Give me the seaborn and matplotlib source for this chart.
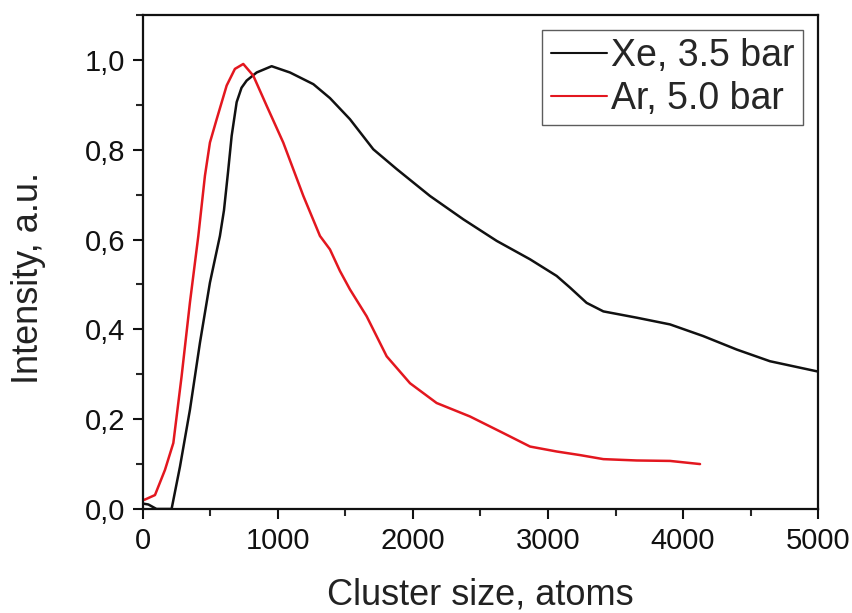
import matplotlib
matplotlib.use("Agg")
import matplotlib.pyplot as plt
from matplotlib.ticker import FuncFormatter, MultipleLocator
import numpy as np
import pandas as pd
import seaborn as sns

# Cluster size distributions (atoms vs. normalised intensity)
xe_size = [0, 40, 100, 212, 274, 348, 422, 496, 570, 600, 630, 657, 694, 730,
           768, 842, 953, 1089, 1262, 1385, 1533, 1706, 1879, 2126, 2373, 2620,
           2867, 3064, 3163, 3286, 3410, 3657, 3904, 4150, 4398, 4644, 5000]
xe_int = [0.012, 0.010, 0.0, 0.0, 0.094, 0.221, 0.370, 0.504, 0.608, 0.665,
          0.750, 0.831, 0.906, 0.938, 0.954, 0.972, 0.986, 0.972, 0.946, 0.915,
          0.868, 0.801, 0.757, 0.697, 0.645, 0.597, 0.556, 0.519, 0.493, 0.459,
          0.440, 0.426, 0.411, 0.385, 0.355, 0.329, 0.306]

ar_size = [0, 15, 89, 163, 225, 286, 348, 410, 459, 496, 546, 620, 681, 743,
           817, 916, 1039, 1188, 1311, 1385, 1459, 1533, 1657, 1805, 1978, 2175,
           2422, 2669, 2867, 3064, 3237, 3410, 3657, 3904, 4126]
ar_int = [0.020, 0.021, 0.031, 0.087, 0.147, 0.295, 0.460, 0.608, 0.742, 0.816,
          0.868, 0.943, 0.980, 0.991, 0.965, 0.898, 0.816, 0.697, 0.608, 0.578,
          0.530, 0.489, 0.429, 0.340, 0.280, 0.236, 0.206, 0.169, 0.139, 0.128,
          0.120, 0.111, 0.108, 0.107, 0.100]

labels = ["Xe, 3.5 bar", "Ar, 5.0 bar"]
colors = ["#111111", "#e3171f"]

df = pd.concat([
    pd.DataFrame({"size": xe_size, "intensity": xe_int, "gas": labels[0]}),
    pd.DataFrame({"size": ar_size, "intensity": ar_int, "gas": labels[1]}),
])

sns.set_style("ticks")
plt.rcParams["font.family"] = ["Liberation Sans", "DejaVu Sans"]

fig = plt.figure(figsize=(8.53, 6.13), dpi=100)
ax = fig.add_axes([0.1676, 0.1697, 0.7914, 0.8058])

sns.lineplot(data=df, x="size", y="intensity", hue="gas",
             palette=dict(zip(labels, colors)), linewidth=1.8,
             estimator=None, sort=False, ax=ax, legend=False)

ax.set_xlim(0, 5000)
ax.set_ylim(0, 1.1)
ax.xaxis.set_major_locator(MultipleLocator(1000))
ax.xaxis.set_minor_locator(MultipleLocator(500))
ax.yaxis.set_major_locator(MultipleLocator(0.2))
ax.yaxis.set_minor_locator(MultipleLocator(0.1))
ax.yaxis.set_major_formatter(FuncFormatter(lambda v, p: f"{v:.1f}".replace(".", ",")))
ax.xaxis.set_major_formatter(FuncFormatter(lambda v, p: f"{int(round(v))}"))

ax.tick_params(which="major", direction="out", length=7, width=1.5,
               labelsize=21, colors="#111111", pad=6)
ax.tick_params(which="minor", direction="out", length=5, width=1.5)
ax.tick_params(top=False, right=False)
for s in ax.spines.values():
    s.set_linewidth(1.6)
    s.set_color("#111111")

ax.set_xlabel("Cluster size, atoms", fontsize=26, labelpad=16, color="#222222")
ax.set_ylabel("Intensity, a.u.", fontsize=26, color="#222222")
ax.yaxis.set_label_coords(-0.144, 0.468)

handles = [plt.Line2D([], [], color=c, linewidth=1.5) for c in colors]
leg = ax.legend(handles, labels, loc="upper right", fontsize=27,
                frameon=True, fancybox=False, handlelength=1.5,
                handletextpad=0.12, borderpad=0.22, borderaxespad=0.4,
                labelspacing=0.18)
leg.get_frame().set_edgecolor("#333333")
leg.get_frame().set_linewidth(1.0)

fig.savefig("out.png", dpi=100, facecolor="white")
